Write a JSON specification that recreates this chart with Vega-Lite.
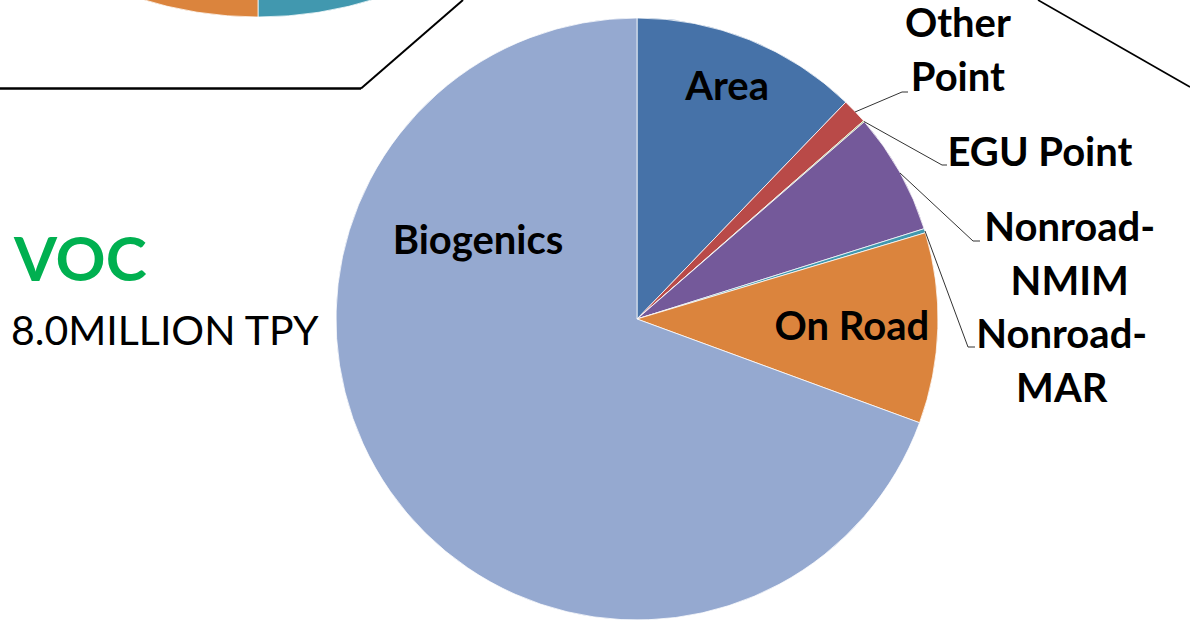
{
  "$schema": "https://vega.github.io/schema/vega-lite/v6.json",
  "width": 602,
  "height": 602,
  "autosize": "none",
  "padding": {"left": 336, "top": 18, "right": 252, "bottom": 1},
  "background": "white",
  "config": {"view": {"stroke": null}},
  "datasets": {
    "voc": [
      {"order": 1, "sector": "Area", "tpy": 976},
      {"order": 2, "sector": "Other Point", "tpy": 109},
      {"order": 3, "sector": "EGU Point", "tpy": 5},
      {"order": 4, "sector": "Nonroad-NMIM", "tpy": 522},
      {"order": 5, "sector": "Nonroad-MAR", "tpy": 18},
      {"order": 6, "sector": "On Road", "tpy": 818},
      {"order": 7, "sector": "Biogenics", "tpy": 5552}
    ],
    "nox": [
      {"order": 1, "sector": "Area", "tpy": 1.5},
      {"order": 2, "sector": "Other Point", "tpy": 2.0},
      {"order": 3, "sector": "EGU Point", "tpy": 3.6},
      {"order": 4, "sector": "Nonroad-NMIM", "tpy": 1.9},
      {"order": 5, "sector": "Nonroad-MAR", "tpy": 1.0},
      {"order": 6, "sector": "On Road", "tpy": 8.0},
      {"order": 7, "sector": "Biogenics", "tpy": 2.0}
    ]
  },
  "resolve": {"scale": {"theta": "independent"}},
  "layer": [
    {
      "data": {"name": "nox"},
      "mark": {"type": "arc", "x": -78, "y": -391, "outerRadius": 390, "stroke": "#ffffff", "strokeWidth": 0.75},
      "encoding": {
        "theta": {"field": "tpy", "type": "quantitative", "stack": true},
        "order": {"field": "order", "type": "quantitative"},
        "color": {"field": "sector", "type": "nominal", "legend": null,
          "scale": {"domain": ["Area", "Other Point", "EGU Point", "Nonroad-NMIM", "Nonroad-MAR", "On Road", "Biogenics"],
                    "range": ["#4672A8", "#B94A48", "#89A54E", "#74599A", "#4198AF", "#DB843D", "#95A9D0"]}}
      }
    },
    {
      "data": {"values": [{}]},
      "mark": {"type": "rule", "color": "#000000", "strokeWidth": 2.5},
      "encoding": {"x": {"value": -336}, "y": {"value": 70.5}, "x2": {"value": 25}, "y2": {"value": 70.5}}
    },
    {
      "data": {"values": [{}]},
      "mark": {"type": "rule", "color": "#000000", "strokeWidth": 2},
      "encoding": {"x": {"value": 25}, "y": {"value": 70.5}, "x2": {"value": 127}, "y2": {"value": -18}}
    },
    {
      "data": {"values": [{}]},
      "mark": {"type": "rule", "color": "#000000", "strokeWidth": 1.6},
      "encoding": {"x": {"value": 702}, "y": {"value": -18}, "x2": {"value": 854}, "y2": {"value": 69}}
    },
    {
      "data": {"name": "voc"},
      "mark": {"type": "arc", "outerRadius": 301, "stroke": "#ffffff", "strokeWidth": 0.75},
      "encoding": {
        "theta": {"field": "tpy", "type": "quantitative", "stack": true},
        "order": {"field": "order", "type": "quantitative"},
        "color": {"field": "sector", "type": "nominal", "legend": null}
      }
    },
    {
      "data": {"name": "voc"},
      "mark": {"type": "text", "radius": 249, "dx": -3, "dy": 12, "font": "Lato", "fontWeight": "bold", "fontSize": 40, "align": "center", "baseline": "alphabetic", "color": "#000000"},
      "encoding": {
        "theta": {"field": "tpy", "type": "quantitative", "stack": true},
        "order": {"field": "order", "type": "quantitative"},
        "text": {"condition": {"test": "datum.sector === 'Area'", "field": "sector"}, "value": ""}
      }
    },
    {
      "data": {"name": "voc"},
      "mark": {"type": "text", "radius": 215, "dx": 0, "dy": 14, "font": "Lato", "fontWeight": "bold", "fontSize": 40, "align": "center", "baseline": "alphabetic", "color": "#000000"},
      "encoding": {
        "theta": {"field": "tpy", "type": "quantitative", "stack": true},
        "order": {"field": "order", "type": "quantitative"},
        "text": {"condition": {"test": "datum.sector === 'On Road'", "field": "sector"}, "value": ""}
      }
    },
    {
      "data": {"name": "voc"},
      "mark": {"type": "text", "radius": 178, "dx": -13, "dy": -167, "font": "Lato", "fontWeight": "bold", "fontSize": 40, "align": "center", "baseline": "alphabetic", "color": "#000000"},
      "encoding": {
        "theta": {"field": "tpy", "type": "quantitative", "stack": true},
        "order": {"field": "order", "type": "quantitative"},
        "text": {"condition": {"test": "datum.sector === 'Biogenics'", "field": "sector"}, "value": ""}
      }
    },
    {
      "data": {"name": "voc"},
      "mark": {"type": "text", "radius": 301, "dx": 103, "dy": -74, "lineHeight": 54, "font": "Lato", "fontWeight": "bold", "fontSize": 40, "align": "center", "baseline": "alphabetic", "color": "#000000"},
      "encoding": {
        "theta": {"field": "tpy", "type": "quantitative", "stack": true},
        "order": {"field": "order", "type": "quantitative"},
        "text": {"condition": {"test": "datum.sector === 'Other Point'", "value": ["Other", "Point"]}, "value": ""}
      }
    },
    {
      "data": {"name": "voc"},
      "mark": {"type": "text", "radius": 301, "dx": 176, "dy": 45, "font": "Lato", "fontWeight": "bold", "fontSize": 40, "align": "center", "baseline": "alphabetic", "color": "#000000"},
      "encoding": {
        "theta": {"field": "tpy", "type": "quantitative", "stack": true},
        "order": {"field": "order", "type": "quantitative"},
        "text": {"condition": {"test": "datum.sector === 'EGU Point'", "field": "sector"}, "value": ""}
      }
    },
    {
      "data": {"name": "voc"},
      "mark": {"type": "text", "radius": 301, "dx": 170, "dy": 69, "lineHeight": 54, "font": "Lato", "fontWeight": "bold", "fontSize": 40, "align": "center", "baseline": "alphabetic", "color": "#000000"},
      "encoding": {
        "theta": {"field": "tpy", "type": "quantitative", "stack": true},
        "order": {"field": "order", "type": "quantitative"},
        "text": {"condition": {"test": "datum.sector === 'Nonroad-NMIM'", "value": ["Nonroad-", "NMIM"]}, "value": ""}
      }
    },
    {
      "data": {"name": "voc"},
      "mark": {"type": "text", "radius": 301, "dx": 137, "dy": 117, "lineHeight": 54, "font": "Lato", "fontWeight": "bold", "fontSize": 40, "align": "center", "baseline": "alphabetic", "color": "#000000"},
      "encoding": {
        "theta": {"field": "tpy", "type": "quantitative", "stack": true},
        "order": {"field": "order", "type": "quantitative"},
        "text": {"condition": {"test": "datum.sector === 'Nonroad-MAR'", "value": ["Nonroad-", "MAR"]}, "value": ""}
      }
    },
    {
      "data": {"values": [{}]},
      "mark": {"type": "rule", "color": "#333333", "strokeWidth": 1},
      "encoding": {"x": {"value": 519}, "y": {"value": 94}, "x2": {"value": 566}, "y2": {"value": 74}}
    },
    {
      "data": {"values": [{}]},
      "mark": {"type": "rule", "color": "#333333", "strokeWidth": 1},
      "encoding": {"x": {"value": 566}, "y": {"value": 74}, "x2": {"value": 572}, "y2": {"value": 74}}
    },
    {
      "data": {"values": [{}]},
      "mark": {"type": "rule", "color": "#333333", "strokeWidth": 1},
      "encoding": {"x": {"value": 528}, "y": {"value": 103.5}, "x2": {"value": 606}, "y2": {"value": 147}}
    },
    {
      "data": {"values": [{}]},
      "mark": {"type": "rule", "color": "#333333", "strokeWidth": 1},
      "encoding": {"x": {"value": 606}, "y": {"value": 147}, "x2": {"value": 611}, "y2": {"value": 147}}
    },
    {
      "data": {"values": [{}]},
      "mark": {"type": "rule", "color": "#333333", "strokeWidth": 1},
      "encoding": {"x": {"value": 564}, "y": {"value": 155}, "x2": {"value": 637}, "y2": {"value": 223}}
    },
    {
      "data": {"values": [{}]},
      "mark": {"type": "rule", "color": "#333333", "strokeWidth": 1},
      "encoding": {"x": {"value": 637}, "y": {"value": 223}, "x2": {"value": 644}, "y2": {"value": 223}}
    },
    {
      "data": {"values": [{}]},
      "mark": {"type": "rule", "color": "#333333", "strokeWidth": 1},
      "encoding": {"x": {"value": 589}, "y": {"value": 213}, "x2": {"value": 632}, "y2": {"value": 329}}
    },
    {
      "data": {"values": [{}]},
      "mark": {"type": "rule", "color": "#333333", "strokeWidth": 1},
      "encoding": {"x": {"value": 632}, "y": {"value": 329}, "x2": {"value": 639}, "y2": {"value": 329}}
    },
    {
      "data": {"values": [{}]},
      "mark": {"type": "text", "text": "VOC", "align": "left", "baseline": "alphabetic", "font": "Lato", "fontWeight": "bold", "fontSize": 62, "color": "#00B050"},
      "encoding": {"x": {"value": -322}, "y": {"value": 263}}
    },
    {
      "data": {"values": [{}]},
      "mark": {"type": "text", "text": "8.0MILLION TPY", "align": "left", "baseline": "alphabetic", "font": "Lato", "fontSize": 41, "color": "#000000"},
      "encoding": {"x": {"value": -325}, "y": {"value": 327}}
    }
  ]
}
